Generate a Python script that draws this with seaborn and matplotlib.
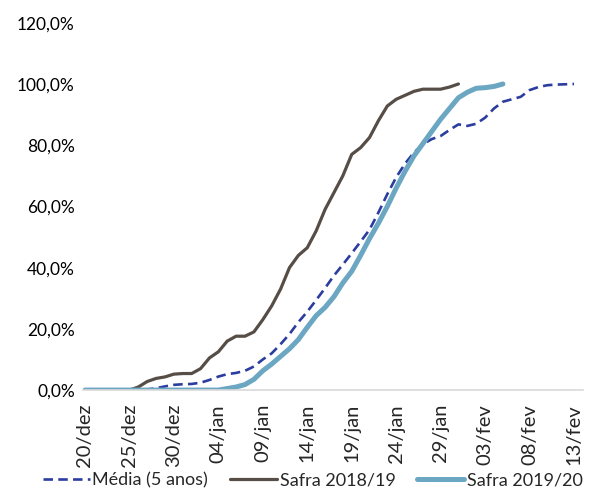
import seaborn as sns
import pandas as pd
import matplotlib.pyplot as plt
import numpy as np

# -------------------------------
# DATA (percent harvested, daily from 20/dez)
# -------------------------------
tick_labels = ["20/dez", "25/dez", "30/dez", "04/jan", "09/jan", "14/jan",
               "19/jan", "24/jan", "29/jan", "03/fev", "08/fev", "13/fev"]

media_5anos = [0, 0, 0, 0, 0, 0, 0, 0.2, 0.6, 1.2,
               1.7, 1.9, 2.0, 2.4, 3.3, 4.4, 5.2, 5.6, 6.3, 7.7,
               10.0, 12.0, 15.0, 18.3, 22.2, 25.6, 29.4, 33.3, 37.4, 41.0,
               44.7, 48.5, 52.4, 58.0, 64.0, 69.5, 74.0, 77.6, 80.3, 82.0,
               83.0, 85.0, 86.8, 86.3, 87.0, 89.0, 92.0, 94.2, 95.0, 95.8,
               98.0, 99.0, 99.6, 99.8, 99.9, 100.0]

safra_1819 = [0, 0, 0, 0, 0, 0, 1.0, 2.8, 3.8, 4.3,
              5.2, 5.4, 5.4, 7.0, 10.5, 12.5, 16.0, 17.6, 17.6, 19.0,
              23.0, 27.5, 33.0, 40.0, 44.0, 46.5, 52.0, 59.0, 64.5, 70.0,
              77.0, 79.2, 82.5, 88.0, 92.8, 95.0, 96.3, 97.6, 98.3, 98.3,
              98.3, 99.0, 100.0]

safra_1920 = [0, 0, 0, 0, 0, 0, 0, 0, 0, 0,
              0, 0, 0, 0, 0, 0, 0.5, 1.0, 1.8, 3.5,
              6.3, 8.5, 11.0, 13.5, 16.5, 20.5, 24.3, 27.0, 30.5, 35.0,
              38.8, 44.0, 49.5, 54.5, 60.0, 66.0, 71.5, 76.5, 80.5, 84.5,
              88.5, 92.0, 95.5, 97.3, 98.6, 98.8, 99.2, 100.0]

series_names = ["Média (5 anos)", "Safra 2018/19", "Safra 2019/20"]

# -------------------------------
# LONG TABLE
# -------------------------------
frames = []
for name, vals in zip(series_names, [media_5anos, safra_1819, safra_1920]):
    frames.append(pd.DataFrame({"dia": np.arange(len(vals)), "pct": vals, "serie": name}))
df = pd.concat(frames, ignore_index=True)

# -------------------------------
# PLOT
# -------------------------------
sns.set_style("white")
plt.rcParams["font.family"] = ["Lato", "DejaVu Sans"]

fig = plt.figure(figsize=(5.9, 4.95), dpi=100)
ax = fig.add_axes([0.141, 0.212, 0.847, 0.742])

styles = {
    "Média (5 anos)": dict(color="#2B3D9E", lw=1.9, dashes=(3.6, 2.0)),
    "Safra 2018/19": dict(color="#564D46", lw=2.3),
    "Safra 2019/20": dict(color="#6BA6C2", lw=3.6),
}

for name in series_names:
    st = styles[name]
    sub = df[df["serie"] == name]
    sns.lineplot(data=sub, x="dia", y="pct", ax=ax,
                 color=st["color"], linewidth=st["lw"], label=name)
    if "dashes" in st:
        ax.lines[-1].set_dashes(st["dashes"])

ax.set_xlim(-0.2, 56)
ax.set_ylim(0, 120)

ax.set_yticks(np.arange(0, 121, 20))
ax.set_yticklabels([f"{v:.1f}%".replace(".", ",") for v in np.arange(0, 121, 20)], fontsize=12.5)

ax.set_xticks(np.arange(0, 56, 5))
ax.set_xticklabels(tick_labels, rotation=90, fontsize=14.5)

ax.set_xlabel("")
ax.set_ylabel("")

for s in ["left", "top", "right"]:
    ax.spines[s].set_visible(False)
ax.spines["bottom"].set_color("#D9D9D9")
ax.spines["bottom"].set_linewidth(1.2)

ax.tick_params(axis="y", length=0, pad=6, colors="#000000")
ax.tick_params(axis="x", length=5, width=1.2, color="#D9D9D9", pad=5, direction="out")

handles, labels = ax.get_legend_handles_labels()
ax.get_legend().remove()
fig.legend(handles, labels, loc="lower center", bbox_to_anchor=(0.53, -0.012), ncol=3,
           frameon=False, fontsize=13, handlelength=2.6, columnspacing=1.2,
           handletextpad=0.15, borderpad=0.2)

plt.savefig("out.png", dpi=100)
